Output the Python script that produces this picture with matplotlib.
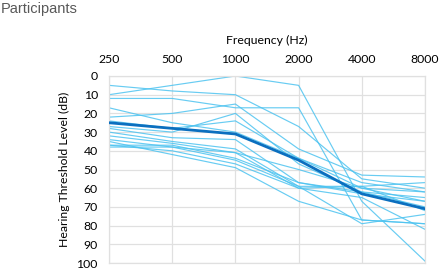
import matplotlib
matplotlib.use("Agg")
import matplotlib.pyplot as plt
import numpy as np

frequencies = ["250", "500", "1000", "2000", "4000", "8000"]
participants = [
    [5, 8, 10, 27, 55, 60],
    [10, 5, 0, 5, 67, 99],
    [12, 12, 17, 17, 77, 79],
    [17, 25, 30, 44, 57, 62],
    [22, 20, 15, 39, 53, 54],
    [24, 28, 24, 44, 60, 67],
    [27, 30, 20, 47, 62, 65],
    [28, 33, 34, 57, 62, 70],
    [30, 35, 39, 59, 79, 74],
    [32, 36, 41, 60, 65, 82],
    [34, 38, 45, 59, 59, 57],
    [35, 42, 49, 67, 77, 79],
    [37, 37, 44, 57, 63, 67],
    [37, 40, 47, 60, 59, 72],
    [38, 38, 41, 50, 60, 62],
]
mean_line = [25, 28, 31, 45, 63, 71]
y_ticks = [0, 10, 20, 30, 40, 50, 60, 70, 80, 90, 100]

plt.rcParams['font.family'] = ['Lato', 'DejaVu Sans']

fig = plt.figure(figsize=(4.4, 2.68), dpi=100)
ax = fig.add_axes([109/440, 1 - 263/268, (425 - 109)/440, (263 - 76)/268])

x = np.arange(len(frequencies))
for p in participants:
    ax.plot(x, p, color='#4DC3F0', lw=0.85, alpha=0.85, zorder=2)
ax.plot(x, mean_line, color='#0B6FBF', lw=2.0, zorder=3)

ax.set_xlim(0, len(frequencies) - 1)
ax.set_ylim(100, 0)
ax.set_xticks(x)
ax.set_xticklabels(frequencies)
ax.set_yticks(y_ticks)
ax.xaxis.tick_top()
ax.xaxis.set_label_position('top')
ax.tick_params(axis='x', length=0, labelsize=8.8, colors='#000000', pad=8)
ax.tick_params(axis='y', length=0, labelsize=8.8, colors='#000000', pad=8)
ax.set_xlabel('Frequency (Hz)', fontsize=8.8, labelpad=7)
ax.set_ylabel('Hearing Threshold Level (dB)', fontsize=8.8, labelpad=5)
ax.grid(True, color='#E0E0E0', lw=0.9)
ax.set_axisbelow(True)
for s in ax.spines.values():
    s.set_color('#E0E0E0')
    s.set_linewidth(0.9)

fig.text(1/440, 1 - 9/268, 'Participants', fontsize=10.5, color='#595959',
         va='center', ha='left', family=['Liberation Sans', 'DejaVu Sans'])

fig.savefig('out.png', dpi=100)
